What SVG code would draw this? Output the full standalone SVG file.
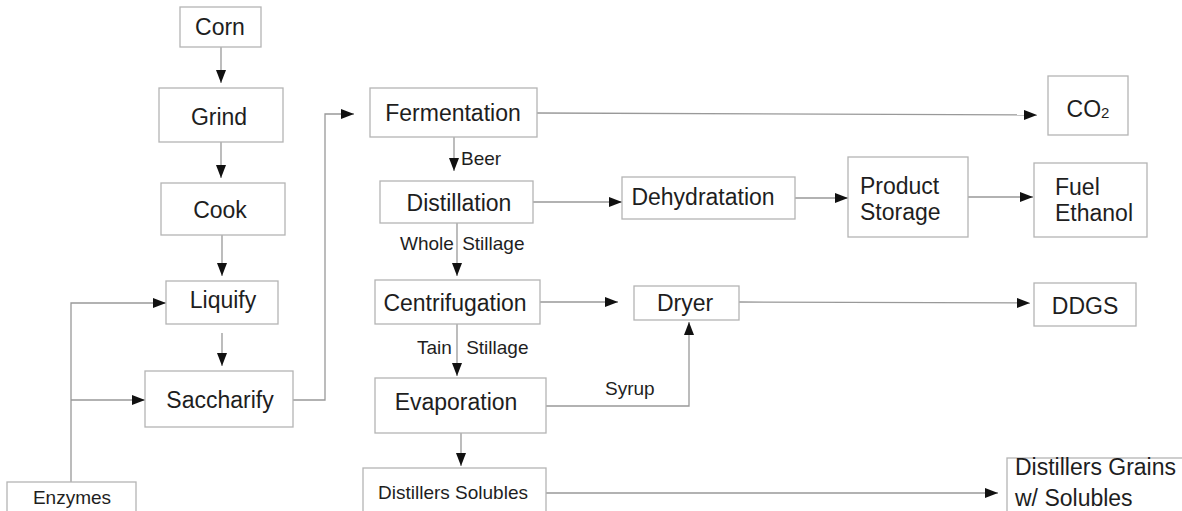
<svg xmlns="http://www.w3.org/2000/svg" width="1182" height="511" viewBox="0 0 1182 511">
<style>
.box{fill:#fff;stroke:#b4b4b4;stroke-width:1.3}
.t{font-family:"Liberation Sans",Arial,sans-serif;fill:#1e1e1e;font-size:23px;dominant-baseline:central}
.c{text-anchor:middle}
.s{font-size:19px}
.line{fill:none;stroke:#999;stroke-width:1.3}
</style>
<defs>
<marker id="ah" markerUnits="userSpaceOnUse" markerWidth="14" markerHeight="11" refX="13" refY="5" orient="auto">
<path d="M0,0 L13,5 L0,10 z" fill="#111"/>
</marker>
</defs>
<rect width="1182" height="511" fill="#fff"/>
<g id="connectors">
<path class="line" marker-end="url(#ah)" d="M221,47 V83"/>
<path class="line" marker-end="url(#ah)" d="M221,142 V178"/>
<path class="line" marker-end="url(#ah)" d="M222,235 V276"/>
<path class="line" marker-end="url(#ah)" d="M222,333 V366"/>
<path class="line" marker-end="url(#ah)" d="M71,482 V303 H166"/>
<path class="line" marker-end="url(#ah)" d="M71,400 H145"/>
<path class="line" marker-end="url(#ah)" d="M293,400 H325 V114 H354"/>
<path class="line" marker-end="url(#ah)" d="M537,113 L1037,115"/>
<path class="line" marker-end="url(#ah)" d="M454,137 V171"/>
<path class="line" marker-end="url(#ah)" d="M533,202 H622"/>
<path class="line" marker-end="url(#ah)" d="M795,198 H848"/>
<path class="line" marker-end="url(#ah)" d="M968,197 H1033"/>
<path class="line" marker-end="url(#ah)" d="M457,223 V276"/>
<path class="line" marker-end="url(#ah)" d="M540,302 H618"/>
<path class="line" marker-end="url(#ah)" d="M739,302 L1030,303"/>
<path class="line" marker-end="url(#ah)" d="M457,324 V376"/>
<path class="line" marker-end="url(#ah)" d="M546,406 H689 V322"/>
<path class="line" marker-end="url(#ah)" d="M461,433 V466"/>
<path class="line" marker-end="url(#ah)" d="M546,493 H998"/>
<text class="t s" x="461" y="158">Beer</text>
<text class="t s" x="400" y="243" word-spacing="3">Whole Stillage</text>
<text class="t s" x="417" y="347" word-spacing="9">Tain Stillage</text>
<text class="t s" x="605" y="388">Syrup</text>
</g>
<g id="corn"><rect class="box" x="180" y="7" width="81" height="40"/><text class="t c" x="220" y="27">Corn</text></g>
<g id="grind"><rect class="box" x="159" y="88" width="124" height="54"/><text class="t c" x="219" y="117">Grind</text></g>
<g id="cook"><rect class="box" x="161" y="183" width="124" height="52"/><text class="t c" x="220" y="210">Cook</text></g>
<g id="liquify"><rect class="box" x="166" y="281" width="112" height="43"/><text class="t c" x="223" y="300">Liquify</text></g>
<g id="saccharify"><rect class="box" x="145" y="371" width="148" height="56"/><text class="t c" x="220" y="400">Saccharify</text></g>
<g id="enzymes"><rect class="box" x="7" y="482" width="129" height="40"/><text class="t c s" x="72" y="497">Enzymes</text></g>
<g id="fermentation"><rect class="box" x="370" y="88" width="167" height="49"/><text class="t c" x="453" y="113">Fermentation</text></g>
<g id="co2"><rect class="box" x="1048" y="76" width="80" height="59"/><text class="t c" x="1088" y="109">CO<tspan font-size="15" dy="3">2</tspan></text></g>
<g id="distillation"><rect class="box" x="380" y="181" width="153" height="42"/><text class="t c" x="459" y="203">Distillation</text></g>
<g id="dehydratation"><rect class="box" x="622" y="177" width="173" height="42"/><text class="t c" x="703" y="197">Dehydratation</text></g>
<g id="product-storage"><rect class="box" x="848" y="157" width="120" height="80"/><text class="t" x="860" y="186">Product</text><text class="t" x="860" y="212">Storage</text></g>
<g id="fuel-ethanol"><rect class="box" x="1034" y="163" width="113" height="74"/><text class="t" x="1055" y="187">Fuel</text><text class="t" x="1055" y="213">Ethanol</text></g>
<g id="centrifugation"><rect class="box" x="375" y="280" width="165" height="44"/><text class="t c" x="455" y="303">Centrifugation</text></g>
<g id="dryer"><rect class="box" x="634" y="286" width="105" height="34"/><text class="t c" x="685" y="303">Dryer</text></g>
<g id="ddgs"><rect class="box" x="1034" y="283" width="102" height="43"/><text class="t c" x="1085" y="306">DDGS</text></g>
<g id="evaporation"><rect class="box" x="375" y="378" width="171" height="55"/><text class="t c" x="456" y="402">Evaporation</text></g>
<g id="distillers-solubles"><rect class="box" x="363" y="468" width="183" height="60"/><text class="t c s" x="453" y="492">Distillers Solubles</text></g>
<g id="dgws"><rect class="box" x="1007" y="458" width="190" height="70"/><text class="t" x="1015" y="467">Distillers Grains</text><text class="t" x="1015" y="498">w/ Solubles</text></g>
</svg>
